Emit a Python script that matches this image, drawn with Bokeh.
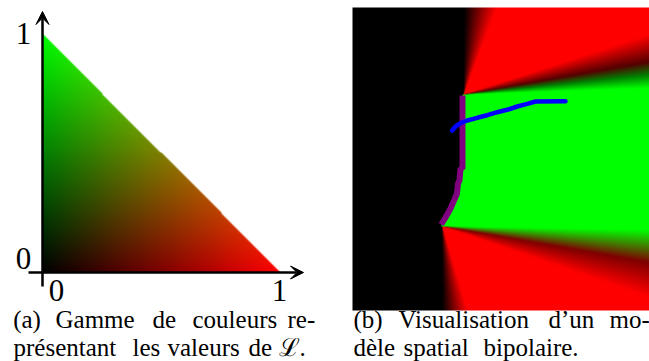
import numpy as np
from bokeh.plotting import figure
from bokeh.layouts import row
from bokeh.models import Range1d, Arrow, VeeHead
from bokeh.core.properties import value
from bokeh.embed import file_html
from bokeh.resources import INLINE

# --- panel (a): colour range of L
tick_values = [0, 1]
tick_labels = ["0", "1"]
caption_a = [("(a)", 12.7, 328), ("Gamme", 55, 328), ("de", 152, 328), ("couleurs", 192, 328), ("re-", 287, 328),
             ("présentant", 13, 356), ("les", 132, 356), ("valeurs", 167, 356), ("de", 248, 356), ("ℒ.", 278, 356)]
# --- panel (b): spatial model
apex_top = (463.3, 94)
apex_bottom = (441.7, 225.7)
boundary_x = [462, 462, 460, 459, 457.5, 456.5, 453.5, 450, 445, 440.7]
boundary_y = [95, 168, 168, 180, 183, 193, 200, 208, 217, 224]
path_x = [451.7, 455, 460, 466.7, 476.7, 486.7, 496.7, 506.7, 516.7, 526.7, 535, 565]
path_y = [130, 126, 122.7, 120, 117.3, 114.7, 111.7, 109.3, 106, 103.3, 101, 100.7]
caption_b = [("(b)", 353, 328), ("Visualisation", 398, 328), ("d’un", 548, 328), ("mo-", 609, 328),
             ("dèle", 353, 356), ("spatial", 403, 356), ("bipolaire.", 483, 356)]

FONT = value("Liberation Serif")
W, H = 649, 361
LEFT_W = 340
CAP_SHIFT = -9.5

def blank(w, xr, yr):
    p = figure(width=w, height=H, x_range=xr, y_range=yr, output_backend="svg", toolbar_location=None,
               x_axis_type=None, y_axis_type=None, min_border=0, background_fill_color="white",
               outline_line_color=None, border_fill_color="white")
    p.grid.visible = False
    return p

# ---------- left ----------
OX, OY, SX, SY = 42, 272, 238, 239
lx = lambda px: (px - OX) / SX
ly = lambda py: (OY - py) / SY
a = blank(LEFT_W, Range1d(lx(0), lx(LEFT_W)), Range1d(ly(H), ly(0)))
n = 240
g = (np.arange(n) + 0.5) / n
gx, gy = np.meshgrid(g, g)
img = np.zeros((n, n, 4), dtype=np.uint8)
img[..., 0] = (gx * 255).astype(np.uint8)
img[..., 1] = (gy * 255).astype(np.uint8)
img[..., 3] = (np.clip((1 - gx - gy) * n * 0.7 + 0.5, 0, 1) * 255).astype(np.uint8)
a.image_rgba(image=[img.view(np.uint32).reshape(n, n)], x=0, y=0, dw=1, dh=1)
head = lambda: VeeHead(size=13, fill_color="black", line_color="black", line_width=1)
a.add_layout(Arrow(end=head(), x_start=lx(28), y_start=0, x_end=lx(303), y_end=0, line_width=2.5, line_color="black"))
a.add_layout(Arrow(end=head(), x_start=0, y_start=ly(286), x_end=0, y_end=ly(11), line_width=2.5, line_color="black"))
ts = "31px"
a.text(x=tick_values, y=[0, 0], text=tick_labels, text_font=FONT, text_font_size=ts, text_align="center",
       text_baseline="alphabetic", x_offset=[14, -1], y_offset=[18, 18], text_color="black")
a.text(x=[0, 0], y=tick_values, text=tick_labels, text_font=FONT, text_font_size=ts, text_align="center",
       text_baseline="alphabetic", x_offset=[-19, -19], y_offset=[-14, 0], text_color="black")
a.text(x=[lx(c[1]) for c in caption_a], y=[ly(c[2]) for c in caption_a], text=[c[0] for c in caption_a],
       text_font=FONT, text_font_size="25px", text_baseline="alphabetic", text_color="black", y_offset=CAP_SHIFT)

# ---------- right ----------
up = lambda py: H - py
b = blank(W - LEFT_W, Range1d(LEFT_W, W), Range1d(0, H))
X0, X1, Y0, Y1 = 352, 649, 7, 310
px, py = np.meshgrid(np.arange(X0, X1) + 0.5, np.arange(Y0, Y1) + 0.5)
R = np.zeros_like(px); G = np.zeros_like(px)
# upper wedge
th = np.degrees(np.arctan2(apex_top[1] - py, px - apex_top[0]))
m = (py < apex_top[1]) & (px >= apex_top[0])
R[m] = np.minimum(np.clip((90 - th[m]) / 21, 0, 1), np.clip((th[m] - 6) / 12, 0, 1))
G[m] = np.clip((10 - th[m]) / 8, 0, 1)
# middle band
edge = np.interp(py, boundary_y, boundary_x)
m = (py >= apex_top[1]) & (py <= apex_bottom[1]) & (px >= edge)
G[m] = 1
# lower wedge
th = np.degrees(np.arctan2(py - apex_bottom[1], px - apex_bottom[0]))
m = (py > apex_bottom[1]) & (px >= apex_bottom[0])
R[m] = np.minimum(np.clip((90 - th[m]) / 17, 0, 1), np.clip((th[m] - 1) / 18, 0, 1))
G[m] = np.clip((10 - th[m]) / 9, 0, 1)
rgba = np.zeros(px.shape + (4,), dtype=np.uint8)
rgba[..., 0] = (R * 255).astype(np.uint8)
rgba[..., 1] = (G * 255).astype(np.uint8)
rgba[..., 3] = 255
rgba = rgba[::-1]
b.image_rgba(image=[rgba.view(np.uint32).reshape(px.shape)], x=X0, y=up(Y1), dw=X1 - X0, dh=Y1 - Y0)
b.line(boundary_x, [up(v) for v in boundary_y], line_color="#800080", line_width=6)
b.line(path_x, [up(v) for v in path_y], line_color="#0000ff", line_width=4.5, line_cap="round")
b.text(x=[c[1] for c in caption_b], y=[up(c[2]) for c in caption_b], text=[c[0] for c in caption_b],
       text_font=FONT, text_font_size="25px", text_baseline="alphabetic", text_color="black", y_offset=CAP_SHIFT)

page = row(a, b, spacing=0, margin=(0, 0, 0, 0))
open("out.html", "w").write(file_html(page, INLINE))
